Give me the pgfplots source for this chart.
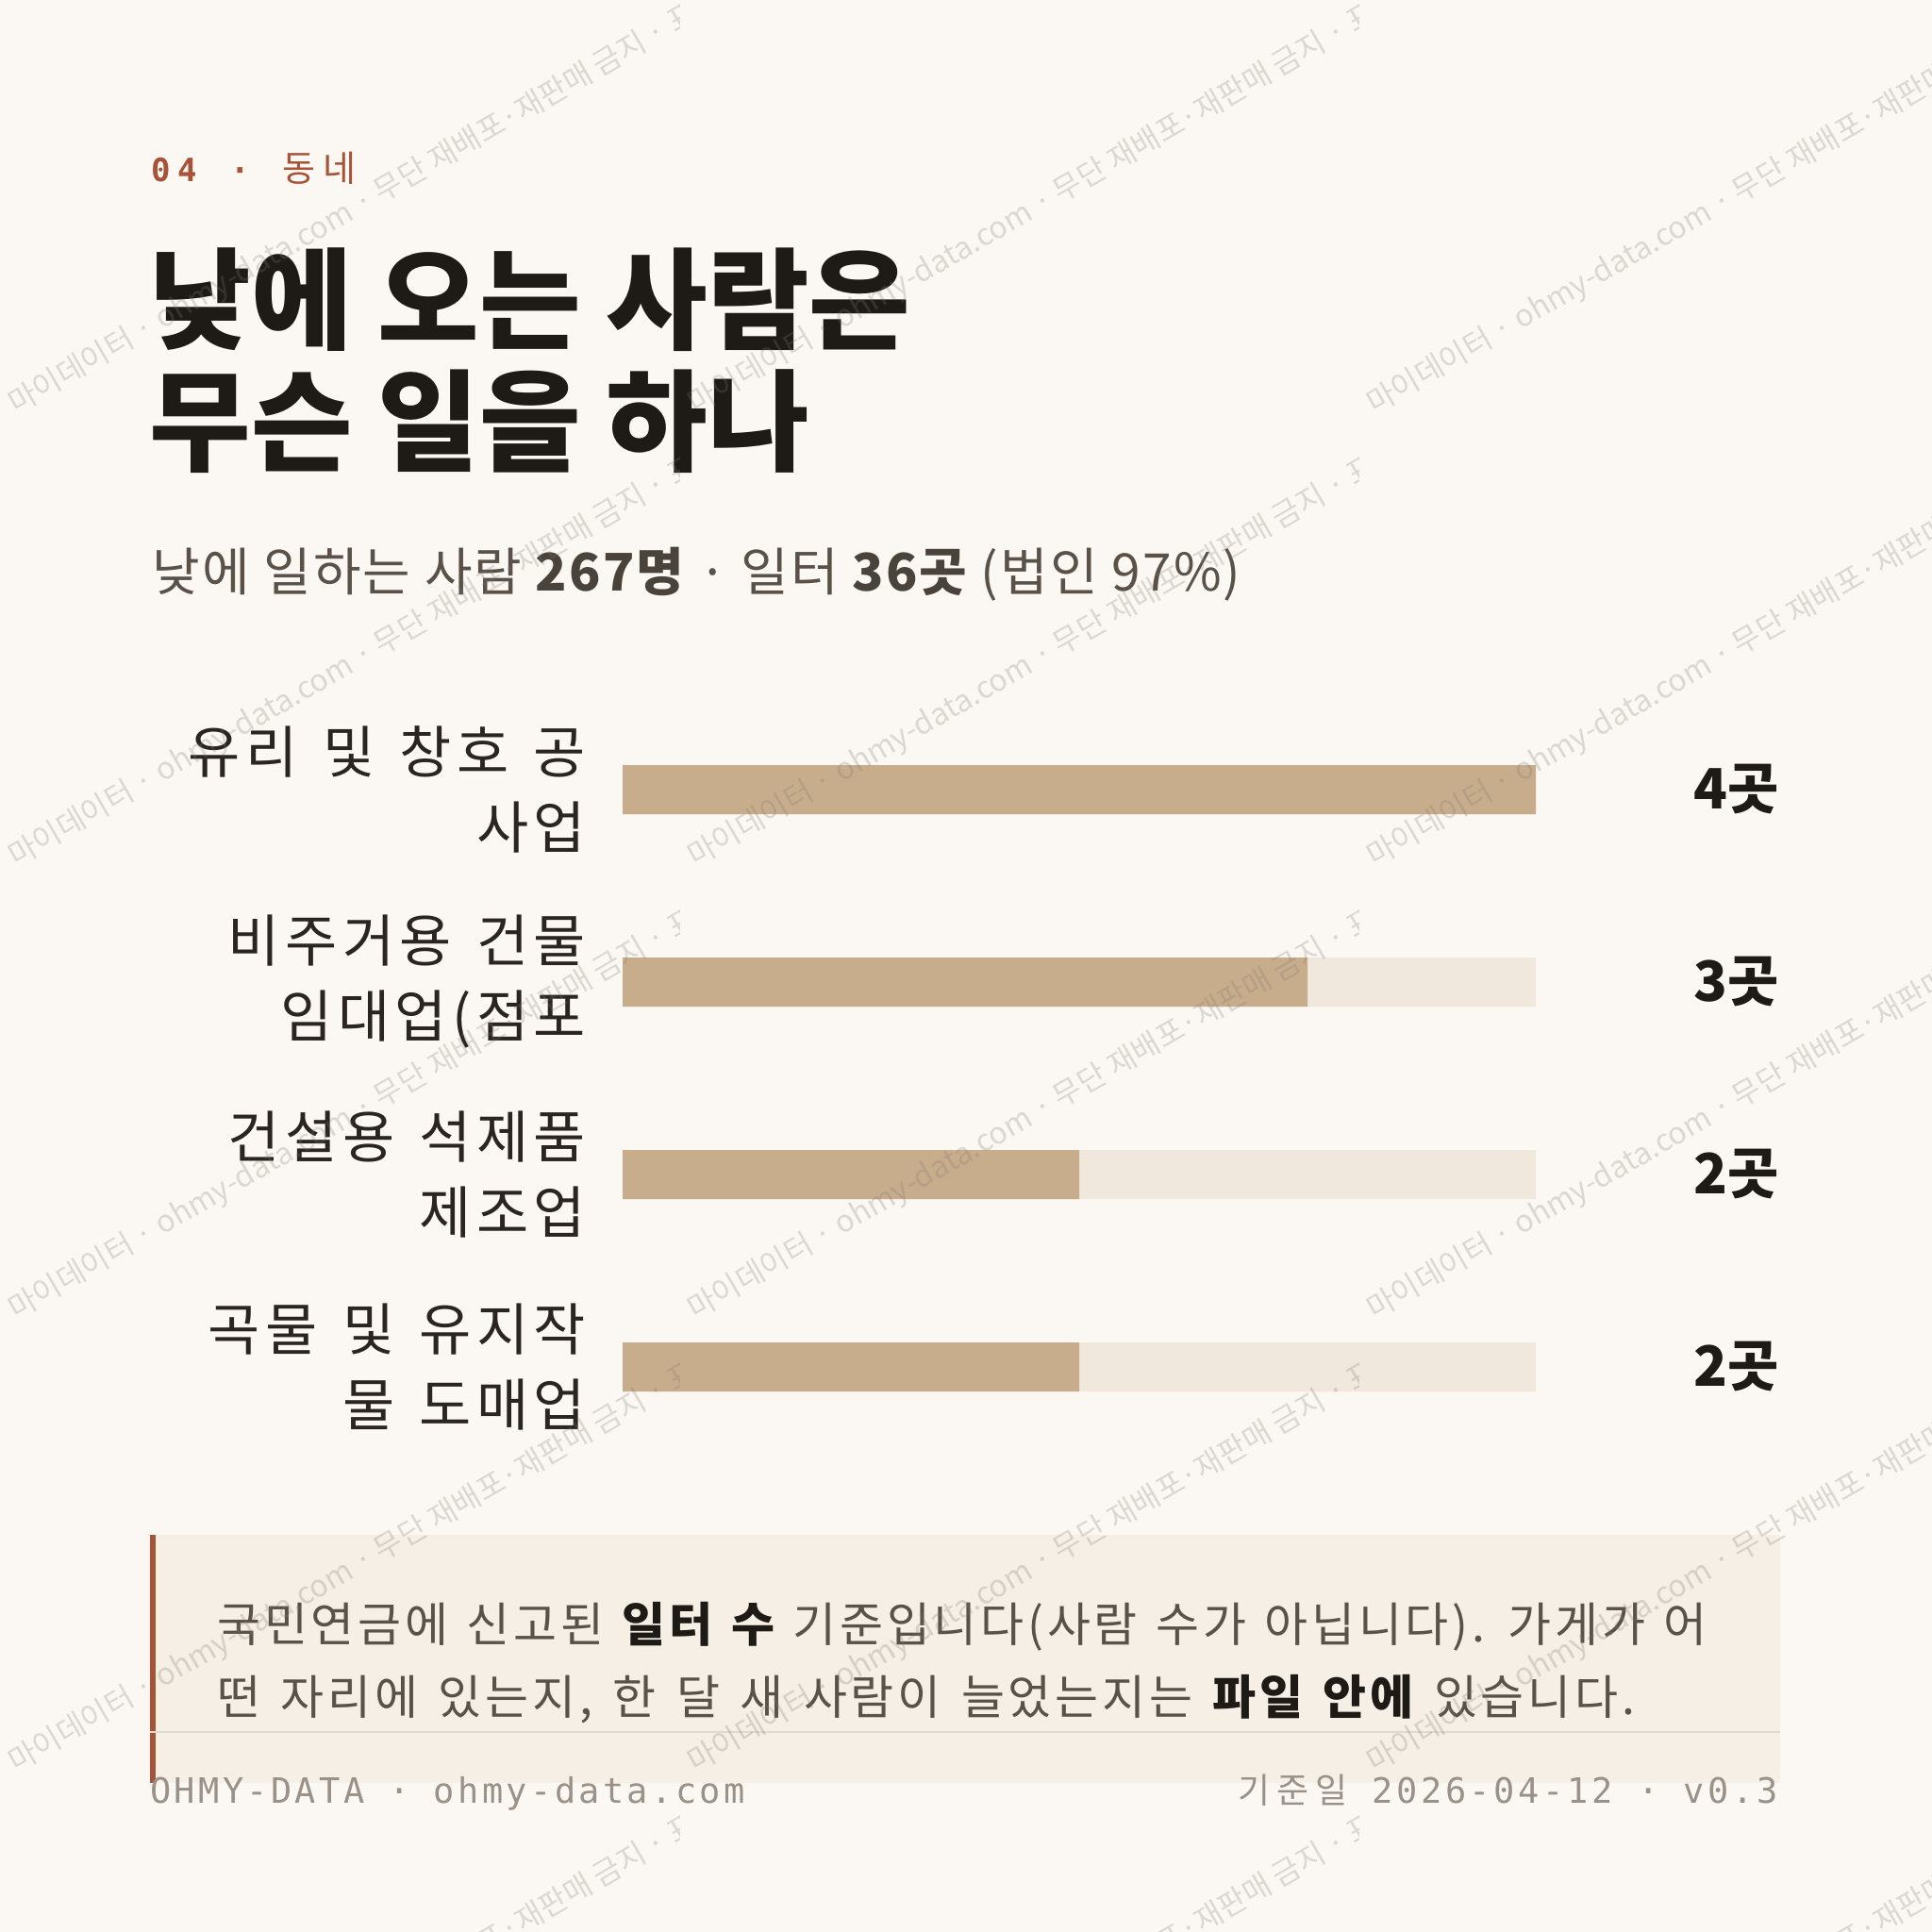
\documentclass[border=0pt]{standalone}
\usepackage{fontspec}
\usepackage{pgfplots}
\pgfplotsset{compat=1.18}
\setmainfont{Noto Sans CJK KR}
\newfontfamily\kr{Noto Sans CJK KR}
\newfontfamily\krls{Noto Sans CJK KR}[LetterSpace=9]
\newfontfamily\krn{Noto Sans CJK KR}[LetterSpace=7.5]
\newfontfamily\mono{DejaVu Sans Mono}
\definecolor{bg}{HTML}{FBF8F3}
\definecolor{accent}{HTML}{A65338}
\definecolor{titc}{HTML}{1E1B17}
\definecolor{subc}{HTML}{5A5249}
\definecolor{subb}{HTML}{4A433C}
\definecolor{labc}{HTML}{2A2521}
\definecolor{barc}{HTML}{C8AD8D}
\definecolor{trackc}{HTML}{F0E8DC}
\definecolor{notebg}{HTML}{F6EFE6}
\definecolor{rulec}{HTML}{E2DACD}
\definecolor{footc}{HTML}{9A9189}
\definecolor{wmc}{HTML}{7F776E}
\begin{document}
\begin{tikzpicture}
\begin{scope}[x=0.5pt,y=-0.5pt]
\fill[bg] (0,0) rectangle (2048,2048);
% header
\node[anchor=base west, inner sep=0pt, text=accent] at (160,193) {\mono\bfseries\fontsize{17}{17}\selectfont 0\kern4pt 4};
\node[anchor=base, inner sep=0pt, text=accent] at (255,193) {\mono\bfseries\fontsize{17}{17}\selectfont ·};
\node[anchor=base west, inner sep=0pt, text=accent] at (299,193) {\kr\fontsize{19}{19}\selectfont 동\kern4pt 네};
% title
\node[anchor=base west, inner sep=0pt, text=titc] at (158,362) {\kr\bfseries\fontsize{58.5}{58.5}\selectfont 낮에 오는 사람은};
\node[anchor=base west, inner sep=0pt, text=titc] at (158,490) {\kr\bfseries\fontsize{58.5}{58.5}\selectfont 무슨 일을 하나};
% subtitle
\node[anchor=base west, inner sep=0pt, text=subc] at (161,626) {\kr\addfontfeatures{LetterSpace=4}\fontsize{27.5}{27.5}\selectfont 낮에 일하는 사람 {\bfseries\color{subb}267명} · 일터 {\bfseries\color{subb}36곳} (법인 97\%)};
% note box
\fill[notebg] (159,1627) rectangle (1887,1890);
\fill[accent] (159,1627) rectangle (165,1890);
\draw[rulec, line width=1.2pt] (159,1836) -- (1887,1836);
\node[anchor=base west, inner sep=0pt, text=subc] at (230,1740) {\krn\fontsize{25}{25}\selectfont\spaceskip=0.39em\relax 국민연금에 신고된 {\bfseries\color{titc}일터 수} 기준입니다(사람 수가 아닙니다). 가게가 어};
\node[anchor=base west, inner sep=0pt, text=subc] at (230,1817) {\krn\fontsize{25}{25}\selectfont\spaceskip=0.43em\relax 떤 자리에 있는지, 한 달 새 사람이 늘었는지는 {\bfseries\color{titc}파일 안에} 있습니다.};
% footer
\node[anchor=base west, inner sep=0pt, text=footc] at (159,1911) {\mono\addfontfeatures{LetterSpace=9}\fontsize{18.5}{18.5}\selectfont OHMY-DATA · ohmy-data.com};
\node[anchor=base east, inner sep=0pt, text=footc] at (1885,1911) {\fontsize{18.5}{18.5}\selectfont{\kr\addfontfeatures{LetterSpace=18}\fontsize{18.5}{18.5}\selectfont 기준일}\mono\addfontfeatures{LetterSpace=10}\fontsize{18.5}{18.5}\selectfont{} 2026-04-12 · v0.3};
\end{scope}
\begin{axis}[
  at={(330pt,-367.5pt)}, anchor=north west,
  scale only axis, width=484pt, height=408pt,
  xmin=0, xmax=4, ymin=-0.5, ymax=3.5, y dir=reverse,
  axis line style={draw=none}, tick style={draw=none},
  xtick=\empty, ytick={0,1,2,3},
  yticklabels={{유리 및 창호 공\\사업},{비주거용 건물\\임대업(점포},{건설용 석제품\\제조업},{곡물 및 유지작\\물 도매업}},
  yticklabel style={align=right, font={\krls\fontsize{30}{40}\selectfont\spaceskip=0.44em\relax}, text=labc, inner sep=0pt, xshift=-15pt},
  clip=false,
  xbar, bar width=26pt, bar shift=0pt,
]
\addplot[fill=trackc, draw=none, point meta=explicit symbolic,
  nodes near coords={{\pgfplotspointmeta}곳},
  nodes near coords style={anchor=east, xshift=129pt, inner sep=0pt, font=\kr\bfseries\fontsize{29.5}{29.5}\selectfont, text=titc}]
  coordinates {(4,0) [4] (4,1) [3] (4,2) [2] (4,3) [2]};
\addplot[fill=barc, draw=none] coordinates {(4,0) (3,1) (2,2) (2,3)};
\end{axis}
\begin{scope}[x=0.5pt,y=-0.5pt]
\clip (0,0) rectangle (2048,2048);
\foreach \cx in {0,720,1440}{
  \foreach \cy in {0,480,960,1440,1920}{
    \begin{scope}
      \clip (\cx,\cy) rectangle ++(720,480);
      \node[anchor=base west, inner sep=0pt, rotate=30, text=wmc, opacity=0.25] at (\cx-5,\cy+452) {\kr\fontsize{16}{16}\selectfont · 마이데이터 · ohmy-data.com · 무단 재배포·재판매 금지 · 표시 금지};
    \end{scope}
  }
}
\end{scope}
\pgfresetboundingbox
\path[use as bounding box] (0pt,0pt) rectangle (1024pt,-1024pt);
\end{tikzpicture}
\end{document}
